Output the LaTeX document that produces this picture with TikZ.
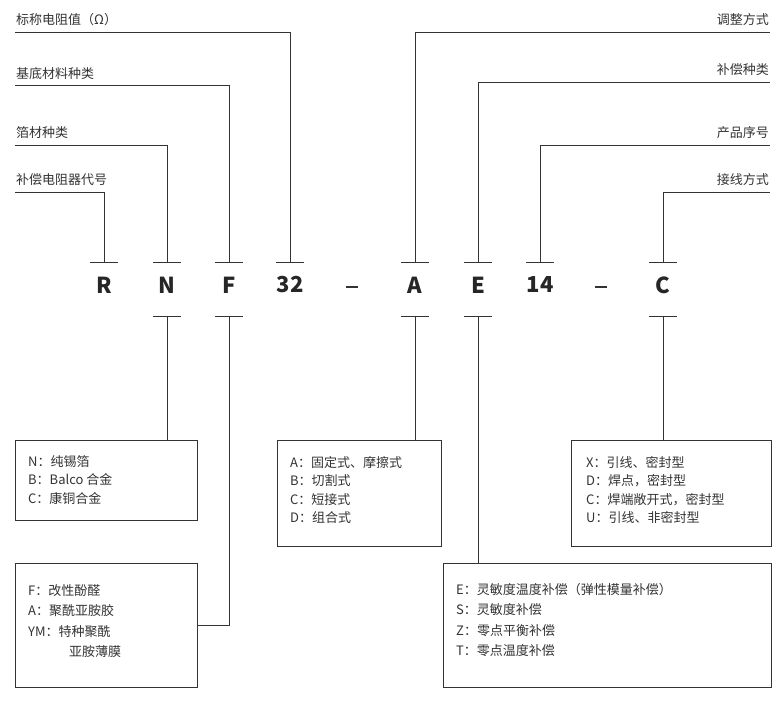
\documentclass[tikz,border=0pt]{standalone}
\usepackage{fontspec}
\setmainfont{Noto Sans CJK SC}
\usetikzlibrary{positioning,calc}
\tikzset{
  lbl/.style={font=\fontsize{13}{18.5}\selectfont,text=black!80,inner sep=1pt},
  code/.style={font=\fontsize{22}{24}\selectfont\bfseries,text=black!85},
  infobox/.style={draw=black!80,line width=0.6pt,anchor=north west,align=left,inner sep=0pt},
  wire/.style={draw=black!80,line width=0.6pt}
}
\begin{document}
\begin{tikzpicture}[x=1pt,y=-1pt]
  \useasboundingbox (0,0) rectangle (781,704);
  % code letters
  \foreach \name/\x/\t in {r/104/R,n/167/N,f/229/F,n32/290/32,a/415/A,e/478/E,n14/540/14,c/663/C}
    \node[code] (\name) at (\x,285) {\t};
  \draw[wire,line width=1.2pt] (346,287) -- (358,287);
  \draw[wire,line width=1.2pt] (595,287) -- (607,287);
  % tick bars above and below
  \foreach \x in {104,167,229,290,415,478,540,663}
    \draw[wire] (\x-14,262) -- (\x+14,262);
  \foreach \x in {167,229,415,478,663}
    \draw[wire] (\x-14,316) -- (\x+14,316);
  % top left labels
  \node[lbl,anchor=south west] (resv) at (15,27) {标称电阻值（Ω）};
  \node[lbl,anchor=south west] (base) at (15,81) {基底材料种类};
  \node[lbl,anchor=south west] (foil) at (15,140) {箔材种类};
  \node[lbl,anchor=south west] (comp) at (15,187) {补偿电阻器代号};
  \draw[wire] (15,32) -| (290,262);
  \draw[wire] (15,85) -| (229,262);
  \draw[wire] (15,145) -| (167,262);
  \draw[wire] (15,192) -| (104,262);
  % top right labels
  \node[lbl,anchor=south east] (adj) at (770,27) {调整方式};
  \node[lbl,anchor=south east] (ctype) at (770,77) {补偿种类};
  \node[lbl,anchor=south east] (seq) at (770,140) {产品序号};
  \node[lbl,anchor=south east] (conn) at (770,187) {接线方式};
  \draw[wire] (770,32) -| (415,262);
  \draw[wire] (770,82) -| (478,262);
  \draw[wire] (770,145) -| (540,262);
  \draw[wire] (770,192) -| (663,262);
  % option boxes
  \node[infobox,minimum width=182,minimum height=80] (bn) at (15,440) {};
  \node[lbl,anchor=north west,align=left] at (27,454) {N：纯锡箔\\B：Balco 合金\\C：康铜合金};
  \node[infobox,minimum width=182,minimum height=124] (bf) at (15,563) {};
  \node[lbl,anchor=north west,align=left] at (27,583) {F：改性酚醛\\[2pt]A：聚酰亚胺胶\\[2pt]YM：特种聚酰\\[2pt]\hspace{41pt}亚胺薄膜};
  \node[infobox,minimum width=164,minimum height=106] (ba) at (277,440) {};
  \node[lbl,anchor=north west,align=left] at (289,455) {A：固定式、摩擦式\\B：切割式\\C：短接式\\D：组合式};
  \node[infobox,minimum width=200,minimum height=106] (bc) at (571,440) {};
  \node[lbl,anchor=north west,align=left] at (585,455) {X：引线、密封型\\D：焊点，密封型\\C：焊端敞开式，密封型\\U：引线、非密封型};
  \node[infobox,minimum width=328,minimum height=124] (be) at (443,563) {};
  \node[lbl,anchor=north west,align=left] at (455,582) {E：灵敏度温度补偿（弹性模量补偿）\\[2pt]S：灵敏度补偿\\[2pt]Z：零点平衡补偿\\[2pt]T：零点温度补偿};
  % connectors to boxes
  \draw[wire] (167,316) -- (bn.north -| 167,0);
  \draw[wire] (229,316) |- (bf.east);
  \draw[wire] (415,316) -- (ba.north -| 415,0);
  \draw[wire] (478,316) -- (be.north -| 478,0);
  \draw[wire] (663,316) -- (bc.north -| 663,0);
\end{tikzpicture}
\end{document}
